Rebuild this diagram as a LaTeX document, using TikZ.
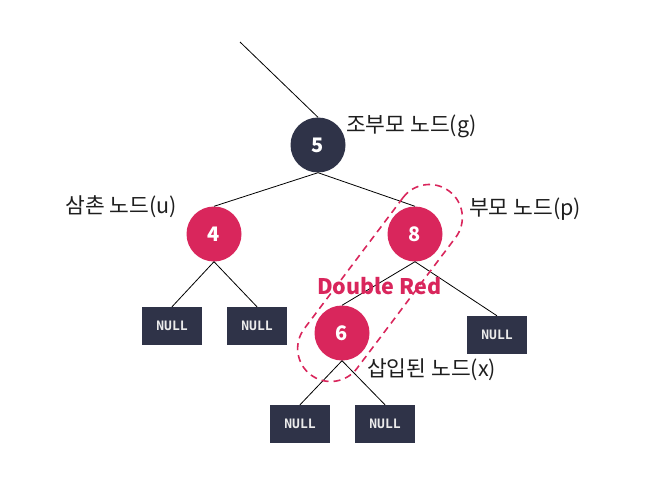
\documentclass[tikz,border=0pt]{standalone}
\usepackage{fontspec}
\setmainfont{Noto Sans CJK KR}
\newfontfamily\monofont{DejaVu Sans Mono}
\definecolor{nred}{RGB}{217,38,92}
\definecolor{ndark}{RGB}{47,51,72}
\definecolor{labelc}{RGB}{30,30,30}
\begin{document}
\begin{tikzpicture}[x=1pt,y=-1pt,
  rb/.style={circle,fill=nred,minimum size=55pt,inner sep=0pt,text=white,font=\bfseries\fontsize{20}{20}\selectfont},
  bb/.style={rb,fill=ndark},
  nullbox/.style={rectangle,fill=ndark,minimum width=60pt,minimum height=38pt,inner sep=0pt,text=white!92!black,font=\monofont\bfseries\fontsize{13}{14}\selectfont},
  lbl/.style={font=\fontsize{21.5}{21.5}\selectfont,text=labelc,inner sep=0pt},
  edge/.style={draw=black,line width=0.8pt}]
\useasboundingbox (0,0) rectangle (652,492);
% nodes
\node[bb] (g) at (318,145) {5};
\node[rb] (u) at (214,234) {4};
\node[rb] (p) at (415,234) {8};
\node[rb] (x) at (342,333) {6};
\node[nullbox] (n1) at (172,326) {NULL};
\node[nullbox] (n2) at (257,326) {NULL};
\node[nullbox] (n3) at (497,335) {NULL};
\node[nullbox] (n4) at (300,424) {NULL};
\node[nullbox] (n5) at (385,424) {NULL};
\coordinate (top) at (240,42);
% edges
\draw[edge] (top) -- (g.north);
\draw[edge] (g.south) -- (u.north);
\draw[edge] (g.south) -- (p.north);
\draw[edge] (u.south) -- (n1.north);
\draw[edge] (u.south) -- (n2.north);
\draw[edge] (p.south) -- (x.north);
\draw[edge] (p.south) -- (n3.north);
\draw[edge] (x.south) -- (n4.north);
\draw[edge] (x.south) -- (n5.north);
% double red outline
\node[draw=nred,line width=1.6pt,dash pattern=on 7pt off 5pt,rectangle,rounded corners=33pt,
  minimum width=230pt,minimum height=66pt,rotate=53] (dr) at (380,283) {};
% labels
\node[lbl,anchor=west] (lg) at (346,126) {조부모 노드(g)};
\node[lbl,anchor=east] (lu) at (177,207) {삼촌 노드(u)};
\node[lbl,anchor=west] (lp) at (469,209) {부모 노드(p)};
\node[lbl,anchor=west] (lx) at (367,370) {삽입된 노드(x)};
\node[font=\bfseries\fontsize{21.5}{21.5}\selectfont,text=nred,inner sep=0pt,anchor=west] (ldr) at (317,286) {Double Red};
\end{tikzpicture}
\end{document}
